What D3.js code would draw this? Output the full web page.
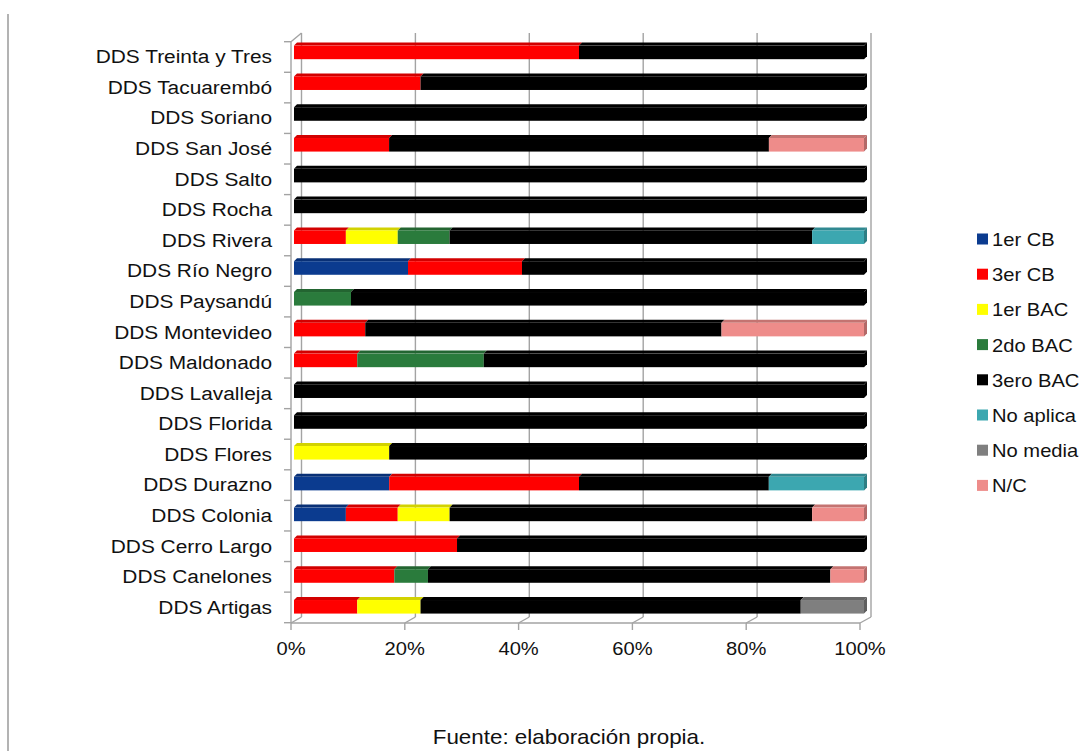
<!DOCTYPE html>
<html>
<head>
<meta charset="utf-8">
<script src="https://cdn.jsdelivr.net/npm/d3@7"></script>
<style>
  html, body { margin: 0; padding: 0; background: #fff; }
  svg { display: block; }
  text { font-family: "Liberation Sans", Arial, sans-serif; fill: #111; }
</style>
</head>
<body>
<svg id="chart" width="1089" height="751"></svg>
<script>
// Departamentos (top to bottom as listed on the axis)
const categories = [
  "DDS Treinta y Tres", "DDS Tacuarembó", "DDS Soriano", "DDS San José",
  "DDS Salto", "DDS Rocha", "DDS Rivera", "DDS Río Negro", "DDS Paysandú",
  "DDS Montevideo", "DDS Maldonado", "DDS Lavalleja", "DDS Florida",
  "DDS Flores", "DDS Durazno", "DDS Colonia", "DDS Cerro Largo",
  "DDS Canelones", "DDS Artigas"
];

const seriesNames = ["1er CB", "3er CB", "1er BAC", "2do BAC", "3ero BAC", "No aplica", "No media", "N/C"];

// Percent of each departamento per level
const cb1      = [0, 0, 0, 0, 0, 0, 0, 20, 0, 0, 0, 0, 0, 0, 16.7, 9.1, 0, 0, 0];
const cb3      = [50, 22.2, 0, 16.7, 0, 0, 9.1, 20, 0, 12.5, 11.1, 0, 0, 0, 33.3, 9.1, 28.6, 17.6, 11.1];
const bac1     = [0, 0, 0, 0, 0, 0, 9.1, 0, 0, 0, 0, 0, 0, 16.7, 0, 9.1, 0, 0, 11.1];
const bac2     = [0, 0, 0, 0, 0, 0, 9.1, 0, 10, 0, 22.2, 0, 0, 0, 0, 0, 0, 5.9, 0];
const bac3     = [50, 77.8, 100, 66.7, 100, 100, 63.6, 60, 90, 62.5, 66.7, 100, 100, 83.3, 33.3, 63.6, 71.4, 70.6, 66.7];
const noAplica = [0, 0, 0, 0, 0, 0, 9.1, 0, 0, 0, 0, 0, 0, 0, 16.7, 0, 0, 0, 0];
const noMedia  = [0, 0, 0, 0, 0, 0, 0, 0, 0, 0, 0, 0, 0, 0, 0, 0, 0, 0, 11.1];
const nc       = [0, 0, 0, 16.7, 0, 0, 0, 0, 0, 25, 0, 0, 0, 0, 0, 9.1, 0, 5.9, 0];

const xTicks = [0, 0.2, 0.4, 0.6, 0.8, 1];

const colors = ["#0b3b8f", "#ff0000", "#ffff00", "#2a7b3c", "#000000", "#3ca7b0", "#7f7f7f", "#ee8c8a"];

const seriesValues = [cb1, cb3, bac1, bac2, bac3, noAplica, noMedia, nc];
const rows = categories.map((c, i) => {
  const r = { cat: c };
  seriesNames.forEach((s, j) => { r[s] = seriesValues[j][i]; });
  return r;
});

const stacked = d3.stack()
  .keys(seriesNames)
  .offset(d3.stackOffsetExpand)(rows);

const svg = d3.select("#chart");

function stretchedText(sel, x, y, anchor, size, sx) {
  return sel.append("text")
    .attr("transform", `translate(${x},${y}) scale(${sx},1)`)
    .attr("text-anchor", anchor)
    .style("font-size", size + "px");
}

// Geometry
const frontX = d3.scaleLinear().domain([0, 1]).range([291, 860]);   // floor front edge
const backX  = d3.scaleLinear().domain([0, 1]).range([301.5, 871]); // back wall
const barX   = d3.scaleLinear().domain([0, 1]).range([294, 864]);   // bar front faces
const floorFrontY = 623, floorBackY = 617, wallTopY = 33;

const yBar = d3.scaleBand().domain(categories).range([37, 622.2])
  .paddingInner(0.56).paddingOuter(0.28);
const yAxis = d3.scaleBand().domain(categories).range([41.7, 622.7]);

const gridColor = "#a3a3a3";
const frame = svg.append("g").attr("stroke", gridColor).attr("stroke-width", 1.4).attr("fill", "none");

// page rule at left
svg.append("line").attr("x1", 8).attr("x2", 8).attr("y1", 14).attr("y2", 751)
  .attr("stroke", "#8a8a8a").attr("stroke-width", 1.3);

// back wall gridlines
frame.selectAll("line.grid").data(xTicks).join("line")
  .attr("class", "grid")
  .attr("x1", d => backX(d)).attr("x2", d => backX(d))
  .attr("y1", wallTopY).attr("y2", floorBackY);

// floor: front edge and diagonals
frame.append("line").attr("x1", frontX(0)).attr("x2", frontX(1))
  .attr("y1", floorFrontY).attr("y2", floorFrontY);
frame.selectAll("line.diag").data(xTicks).join("line")
  .attr("class", "diag")
  .attr("x1", d => frontX(d)).attr("y1", floorFrontY)
  .attr("x2", d => backX(d)).attr("y2", floorBackY);

// left wall front edge and top corner
frame.append("line").attr("x1", frontX(0)).attr("x2", frontX(0))
  .attr("y1", 41.7).attr("y2", floorFrontY);
frame.append("line").attr("x1", frontX(0)).attr("y1", 41.7)
  .attr("x2", backX(0)).attr("y2", wallTopY);

// category boundary ticks on the left edge
const bounds = categories.map(c => yAxis(c)).concat([yAxis.range()[1]]);
frame.selectAll("line.ytick").data(bounds).join("line")
  .attr("class", "ytick")
  .attr("x1", frontX(0) - 7).attr("x2", frontX(0))
  .attr("y1", d => d).attr("y2", d => d);

// value ticks below the floor
frame.selectAll("line.xtick").data(xTicks).join("line")
  .attr("class", "xtick")
  .attr("x1", d => frontX(d)).attr("x2", d => frontX(d))
  .attr("y1", floorFrontY).attr("y2", floorFrontY + 7);

// bars (front face, top face, end face)
const dx = 3, dy = -3;
const h = yBar.bandwidth();
const barsG = svg.append("g");

stacked.forEach((layer, si) => {
  const base = colors[si];
  const top = d3.color(base).darker(0.55).formatHex();
  const side = d3.color(base).darker(0.8).formatHex();
  const g = barsG.append("g");
  layer.forEach(seg => {
    if (seg[1] - seg[0] <= 1e-9) return;
    const cat = seg.data.cat;
    const x0 = barX(seg[0]), x1 = barX(seg[1]);
    const y = yBar(cat);
    g.append("polygon")
      .attr("points", [[x0, y], [x0 + dx, y + dy], [x1 + dx, y + dy], [x1, y]].join(" "))
      .attr("fill", top);
    g.append("rect")
      .attr("x", x0).attr("y", y).attr("width", x1 - x0).attr("height", h)
      .attr("fill", base);
    if (seg[1] > 0.999) {
      g.append("polygon")
        .attr("points", [[x1, y], [x1 + dx, y + dy], [x1 + dx, y + h + dy], [x1, y + h]].join(" "))
        .attr("fill", side);
    }
  });
});

// category labels
const labG = svg.append("g");
categories.forEach(c => {
  stretchedText(labG, 272, yAxis(c) + yAxis.bandwidth() / 2, "end", 18, 1.16)
    .attr("dy", "0.35em")
    .text(c);
});

// value labels
const fmt = d3.format(".0%");
xTicks.forEach(t => {
  stretchedText(svg, frontX(t), 655, "middle", 18, 1.12).text(fmt(t));
});

// legend
const legend = svg.append("g");
seriesNames.forEach((s, i) => {
  const y = 233.5 + i * 35.2;
  legend.append("rect").attr("x", 977).attr("y", y).attr("width", 11).attr("height", 11)
    .attr("fill", colors[i]);
  stretchedText(legend, 992, y + 12.5, "start", 18, 1.12).text(s);
});

// source note
stretchedText(svg, 569, 744, "middle", 20, 1.12).text("Fuente: elaboración propia.");
</script>
</body>
</html>
